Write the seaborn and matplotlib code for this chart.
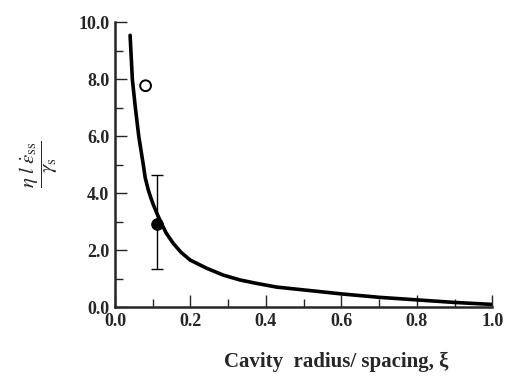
import matplotlib
matplotlib.use("Agg")
import matplotlib.pyplot as plt
from matplotlib.ticker import MultipleLocator, FormatStrFormatter
import pandas as pd
import seaborn as sns

# Theoretical curve: normalised steady-state creep rate vs cavity radius/spacing
xi_curve = [0.040, 0.046, 0.054, 0.063, 0.075, 0.080, 0.088, 0.094, 0.101,
            0.110, 0.119, 0.135, 0.154, 0.175, 0.199, 0.243, 0.287, 0.331,
            0.375, 0.428, 0.5, 0.6, 0.7, 0.8, 0.9, 1.0]
rate_curve = [9.55, 8.0, 7.0, 6.0, 5.0, 4.55, 4.13, 3.88, 3.62,
              3.33, 3.06, 2.62, 2.25, 1.93, 1.66, 1.37, 1.13, 0.96,
              0.84, 0.71, 0.61, 0.47, 0.35, 0.26, 0.17, 0.10]

# Experimental points
xi_open = [0.081]
rate_open = [7.78]
xi_filled = [0.110]
rate_filled = [2.93]
err_low = [1.34]
err_high = [4.63]

x_ticks = [0.0, 0.2, 0.4, 0.6, 0.8, 1.0]
y_ticks = [0.0, 2.0, 4.0, 6.0, 8.0, 10.0]

sns.set_style("ticks")
plt.rcParams["font.family"] = ["Liberation Serif", "DejaVu Serif"]
plt.rcParams["mathtext.fontset"] = "stix"

fig = plt.figure(figsize=(5.06, 3.83), dpi=100)
ax = fig.add_axes([115 / 506, 1 - 307.3 / 383, 377.5 / 506, 284.8 / 383])

curve = pd.DataFrame({"xi": xi_curve, "rate": rate_curve})
sns.lineplot(data=curve, x="xi", y="rate", ax=ax, color="black",
             linewidth=2.6, sort=False, legend=False)
for ln in ax.get_lines():
    ln.set_solid_joinstyle("round")

ax.errorbar(xi_filled, rate_filled,
            yerr=[[r - lo for r, lo in zip(rate_filled, err_low)],
                  [hi - r for r, hi in zip(rate_filled, err_high)]],
            fmt="none", ecolor="black", elinewidth=1.0, capsize=4.5,
            capthick=1.0, zorder=3)
sns.scatterplot(x=xi_filled, y=rate_filled, ax=ax, color="black", s=70,
                edgecolor="black", zorder=4)
sns.scatterplot(x=xi_open, y=rate_open, ax=ax, facecolor="none",
                edgecolor="black", linewidth=1.4, s=60, zorder=4)

ax.set_xlim(0, 1.0)
ax.set_ylim(0, 10.0)
ax.set_xticks(x_ticks)
ax.set_yticks(y_ticks)
ax.xaxis.set_minor_locator(MultipleLocator(0.1))
ax.yaxis.set_minor_locator(MultipleLocator(1.0))
ax.xaxis.set_major_formatter(FormatStrFormatter("%.1f"))
ax.yaxis.set_major_formatter(FormatStrFormatter("%.1f"))

sns.despine(ax=ax)
for side in ("left", "bottom"):
    ax.spines[side].set_linewidth(1.8)
ax.tick_params(which="major", direction="in", length=8.5, width=1.0,
               labelsize=13, pad=4)
ax.tick_params(which="minor", direction="in", length=5.5, width=1.0)
for lab in ax.get_xticklabels() + ax.get_yticklabels():
    lab.set_fontweight("bold")

ax.set_xlabel("")
ax.set_ylabel("")

fig.text(336 / 506, 1 - 362 / 383, "Cavity  radius/ spacing, ξ",
         ha="center", va="center", fontsize=15, fontweight="bold")
fig.text(39 / 506, 1 - 164 / 383,
         r"$\dfrac{\eta\;l\;\dot{\varepsilon}_{\mathrm{ss}}}{\gamma_{\mathrm{s}}}$",
         rotation=90, ha="center", va="center", fontsize=15)

fig.savefig("out.png", dpi=100)
